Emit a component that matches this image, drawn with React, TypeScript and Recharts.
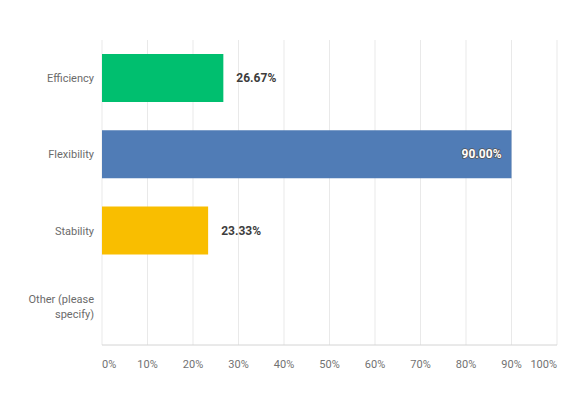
import React from "react";
import { BarChart, Bar, XAxis, YAxis, CartesianGrid, LabelList, Cell } from "recharts";

const categories = ["Efficiency", "Flexibility", "Stability", "Other (please specify)"];
const percentages = [26.67, 90.0, 23.33, 0];
const barColors = ["#00bf6f", "#507cb6", "#f9be00", "#f05b24"];
const xTicks = [0, 10, 20, 30, 40, 50, 60, 70, 80, 90, 100];

const chartData = categories.map((name, i) => ({ name, value: percentages[i] }));

const FONT = "Roboto, 'Open Sans', sans-serif";

// wrap long category names on word boundaries
function wrapLabel(label: string, maxChars = 14) {
  const lines: string[] = [];
  let cur = "";
  label.split(" ").forEach((w) => {
    const next = cur ? cur + " " + w : w;
    if (next.length > maxChars && cur) {
      lines.push(cur);
      cur = w;
    } else {
      cur = next;
    }
  });
  if (cur) lines.push(cur);
  return lines;
}

function XTick(props: any) {
  const { x, y, payload, index } = props;
  const last = index === xTicks.length - 1;
  const anchor = index === 0 ? "start" : last ? "end" : "middle";
  return (
    <text x={x} y={y} dy={7} textAnchor={anchor} fill="#727272" fontSize={11} fontFamily={FONT}>
      {payload.value}%
    </text>
  );
}

function YTick(props: any) {
  const { x, y, payload } = props;
  const lines = wrapLabel(payload.value);
  const lh = 15;
  const start = y + 4 - ((lines.length - 1) * lh) / 2;
  return (
    <text textAnchor="end" fill="#6b6b6b" fontSize={11} fontFamily={FONT}>
      {lines.map((l, i) => (
        <tspan key={i} x={x} y={start + i * lh}>
          {l}
        </tspan>
      ))}
    </text>
  );
}

function ValueLabel(props: any) {
  const { x, y, width, height, value } = props;
  if (!value) return null;
  const inside = value > 80;
  const tx = inside ? x + width - 10 : x + width + 13;
  return (
    <text
      x={tx}
      y={y + height / 2}
      dy={4}
      textAnchor={inside ? "end" : "start"}
      fill={inside ? "#ffffff" : "#3d3d3d"}
      stroke={inside ? "#555" : "none"}
      strokeWidth={inside ? 1.6 : 0}
      paintOrder="stroke"
      fontSize={12}
      fontWeight={700}
      fontFamily={FONT}
    >
      {Number(value).toFixed(2)}%
    </text>
  );
}

export default function App() {
  return (
    <div style={{ position: "absolute", left: 0, top: 0, background: "#fff" }}>
      <BarChart
        width={577}
        height={408}
        data={chartData}
        layout="vertical"
        margin={{ top: 40, right: 20, bottom: 33, left: 0 }}
      >
        <CartesianGrid horizontal={false} stroke="#e9e9e9" />
        <XAxis
          type="number"
          dataKey="value"
          domain={[0, 100]}
          ticks={xTicks}
          interval={0}
          tick={<XTick />}
          tickLine={false}
          axisLine={{ stroke: "#d4d4d4" }}
          height={30}
          tickMargin={10}
        />
        <YAxis
          type="category"
          dataKey="name"
          width={102}
          tick={<YTick />}
          tickLine={false}
          axisLine={false}
          tickMargin={2}
        />
        <Bar dataKey="value" barSize={48} isAnimationActive={false}>
          {chartData.map((d, i) => (
            <Cell key={d.name} fill={barColors[i]} />
          ))}
          <LabelList dataKey="value" content={<ValueLabel />} />
        </Bar>
      </BarChart>
    </div>
  );
}
